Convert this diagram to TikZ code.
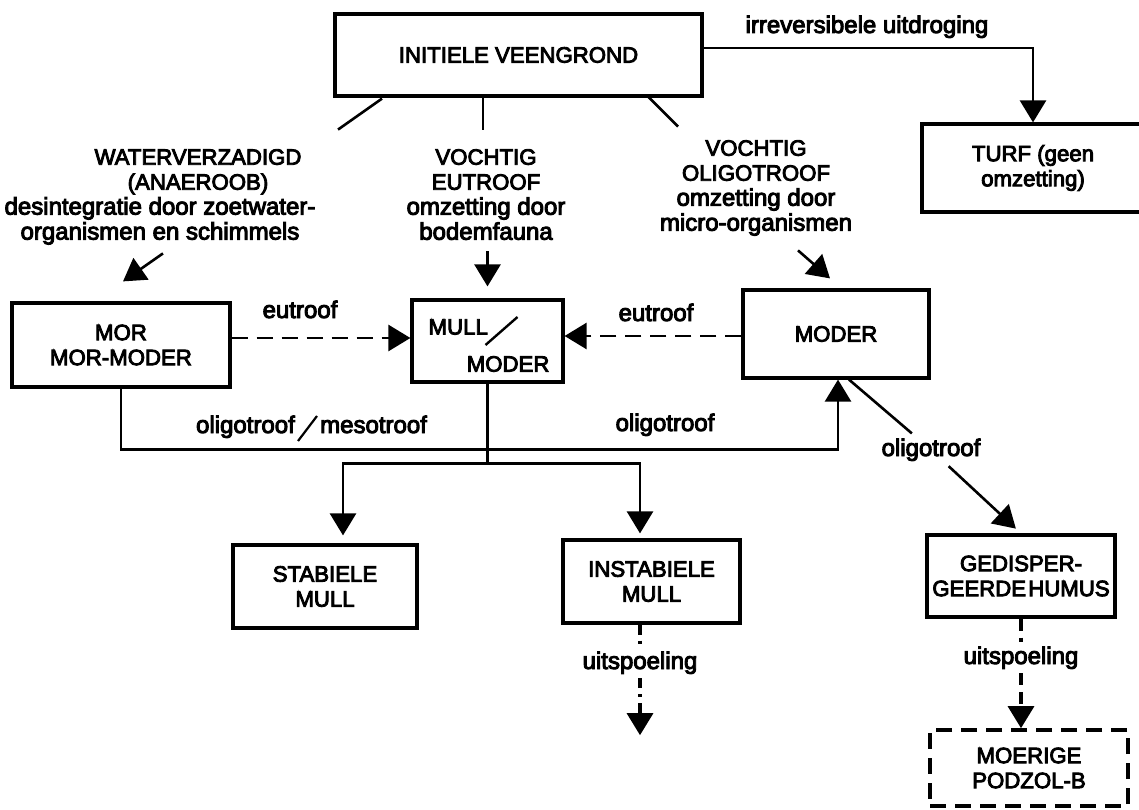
\documentclass[tikz,border=0pt]{standalone}
\usepackage{fontspec}
\setmainfont{Liberation Sans}[FakeBold=4]
\usetikzlibrary{arrows.meta}
\newcommand{\hoofd}{\fontsize{22.2}{25}\selectfont}
\newcommand{\klein}{\fontsize{24}{25}\selectfont}
\tikzset{
  kader/.style={draw, line width=3.2pt, align=center, inner sep=0pt, font=\hoofd},
  etiket/.style={inner sep=0pt, font=\klein},
  kop/.style={inner sep=0pt, align=center, anchor=north, font=\klein},
  lijn/.style={line width=2.6pt},
  pijl/.style={lijn, -{Triangle[length=22pt,width=26pt]}},
  streep/.style={dash pattern=on 16pt off 9pt},
  streeppijl/.style={pijl, streep},
  stip/.style={lijn, line width=3.2pt, dash pattern=on 10pt off 6pt on 3pt off 6pt},
  stippijl/.style={pijl, line width=3.2pt, dash pattern=on 10pt off 6pt on 3pt off 6pt},
  kort/.style={lijn, line width=3.2pt, dash pattern=on 12pt off 7pt},
  kortpijl/.style={pijl, line width=3.2pt, dash pattern=on 12pt off 7pt},
}

\begin{document}
\begin{tikzpicture}[x=1pt,y=-1pt,font=\klein]
\useasboundingbox (0,0) rectangle (1139,810);
\fill[white] (0,0) rectangle (1139,810);
\node[kader, minimum width=367pt, minimum height=82pt] (veen) at (518.5,55) {INITIELE VEENGROND};
\node[kader, minimum width=222pt, minimum height=88pt] (turf) at (1033,168) {TURF (geen\\omzetting)};
\node[kader, minimum width=218pt, minimum height=84pt] (mor) at (121,345) {MOR\\MOR-MODER};
\node[kader, minimum width=151pt, minimum height=82pt] (mull) at (487.5,341) {};
\node[kader, minimum width=186pt, minimum height=88pt] (moder) at (836,334) {MODER};
\node[kader, minimum width=184pt, minimum height=83pt] (stabiel) at (325,586.5) {STABIELE\\MULL};
\node[kader, minimum width=177pt, minimum height=83pt] (instab) at (651.5,581.5) {INSTABIELE\\MULL};
\node[kader, minimum width=188pt, minimum height=82pt] (gedisp) at (1021,576) {GEDISPER-\\GEERDE\hspace{.1em}HUMUS};
\node[kader, streep, minimum width=198pt, minimum height=76pt] (moerig) at (1029,768) {MOERIGE\\PODZOL-B};

\node[anchor=west, inner sep=0pt, font=\hoofd] (mulltekst) at ([shift={(18,-14)}]mull.west) {MULL};
\node[anchor=east, inner sep=0pt, font=\hoofd] (modertekst) at ([shift={(-15,23)}]mull.east) {MODER};
\draw[line width=2.4pt] ([shift={(-2,4)}]mull.center) -- ++(32,-28);

\node[kop, font=\hoofd] (nat) at (198,149) {WATERVERZADIGD\\(ANAEROOB)};
\node[kop] (natuitleg) at (160,197) {desintegratie door zoetwater-\\organismen en schimmels};
\node[kop] (eutroof) at (486,149) {\hoofd VOCHTIG\\\hoofd EUTROOF\\\klein omzetting door\\\klein bodemfauna};
\node[kop] (oligo) at (756,140) {\hoofd VOCHTIG\\\hoofd OLIGOTROOF\\\klein omzetting door\\\klein micro-organismen};

\node[etiket, anchor=base] (uitdr) at (867,33) {irreversibele uitdroging};
\node[etiket, anchor=base] (eu1) at (300,318) {eutroof};
\node[etiket, anchor=base] (eu2) at (656,321) {eutroof};
\node[etiket, anchor=base east] (oligo1) at (295,433) {oligotroof};
\node[etiket, anchor=base west] (meso) at (320,433) {mesotroof};
\draw[line width=2.2pt] (oligo1.base east) ++(3,8) -- ++(19,-25);
\node[etiket, anchor=base] (oligo2) at (665,431) {oligotroof};
\node[etiket, anchor=base, inner sep=5pt] (oligo3) at (931,456) {oligotroof};
\node[etiket, anchor=base, inner sep=4pt] (spoel1) at (640,669) {uitspoeling};
\node[etiket, anchor=base, inner sep=4pt] (spoel2) at (1021,664) {uitspoeling};

\draw[lijn] (veen.south) ++(-136.5,1) -- ++(-44,31);
\draw[lijn] (veen.south) ++(-35.5,0) -- ++(0,32);
\draw[lijn] (veen.south) ++(129.5,-1) -- ++(30,30);
\draw[pijl] ([yshift=7pt]veen.east) -| (turf.north);
\draw[pijl] (mor.north) ++(42,-48) -- ++(-40,28);
\draw[pijl] (mull.north) ++(0,-47) -- ++(0,35);
\draw[pijl] (moder.north) ++(-38,-38) -- ++(32,28);
\draw[streeppijl] ([yshift=7pt]mor.east) -- ([yshift=3pt]mull.west);
\draw[streeppijl] ([yshift=-2pt]moder.west) -- ([yshift=5pt]mull.east);
\draw[pijl] (mor.south) -- ++(0,61) -| ([xshift=2pt]moder.south);
\draw[lijn] (mull.south) -- ++(0,80) coordinate (tak);
\draw[pijl, shorten >=8pt] (tak) -| ([xshift=18pt]stabiel.north);
\draw[pijl, shorten >=5pt] (tak) -| ([xshift=-11.5pt]instab.north);
\draw[lijn] ([xshift=13pt]moder.south) -- (oligo3);
\draw[pijl, shorten >=7pt] (oligo3) -- (gedisp.north);
\draw[stip] ([xshift=-11.5pt]instab.south) -- (spoel1.north);
\draw[stippijl] (spoel1.south) -- ++(0,57);
\draw[kort] (gedisp.south) -- (spoel2.north);
\draw[kortpijl] (spoel2.south) -- ++(0,55);
\end{tikzpicture}
\end{document}
